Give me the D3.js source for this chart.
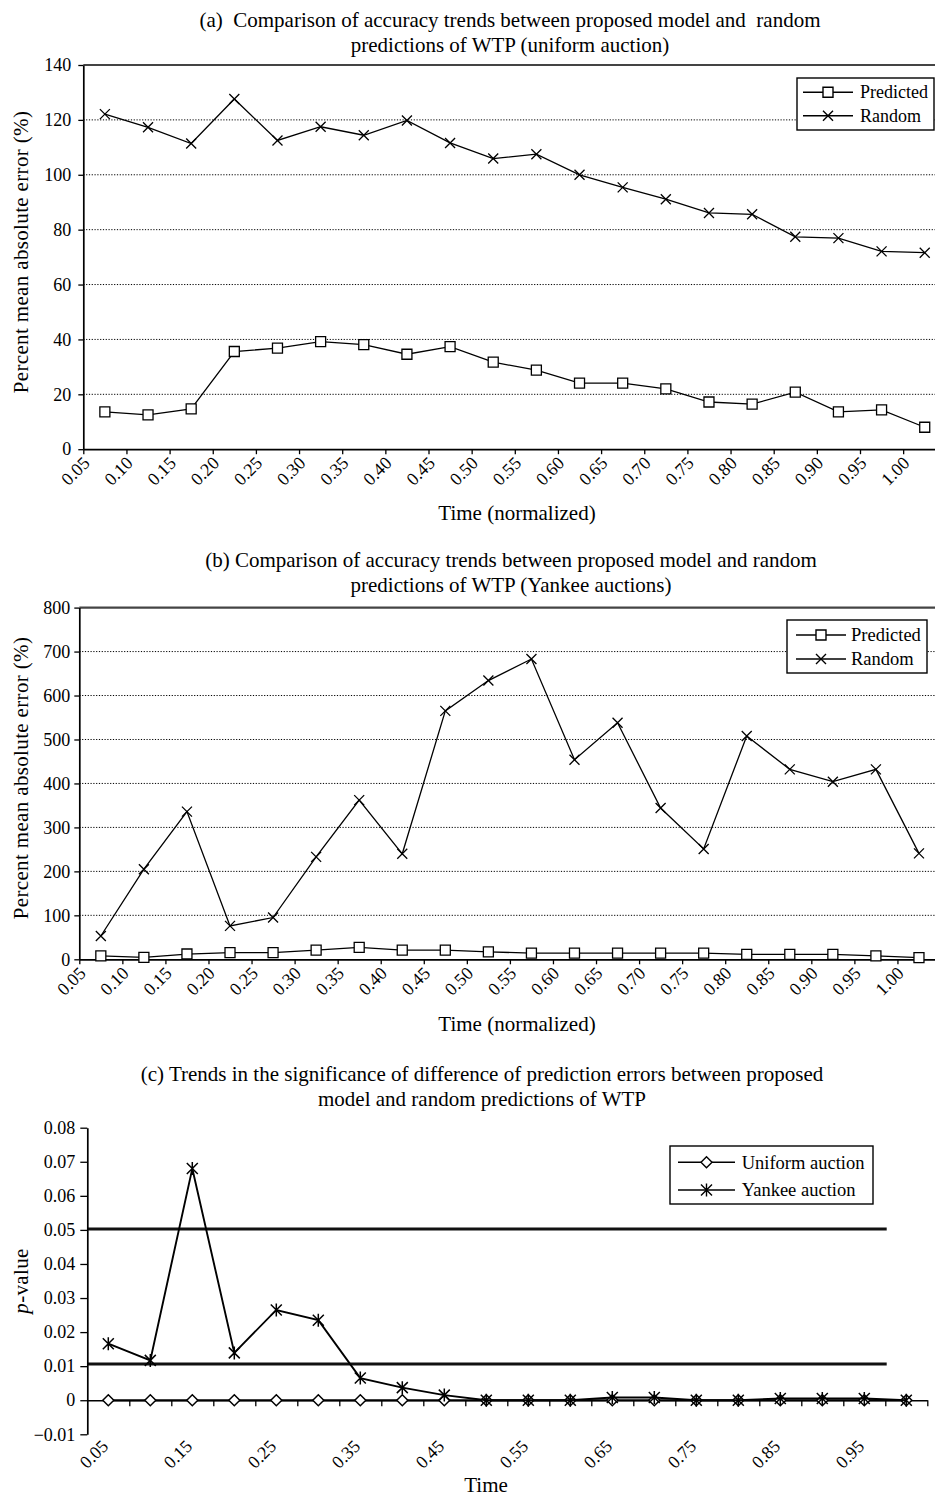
<!DOCTYPE html>
<html><head><meta charset="utf-8">
<script src="https://cdn.jsdelivr.net/npm/d3@7"></script>
<style>
body{margin:0;background:#fff;}
svg{display:block;}
</style></head><body>
<svg id="chart" width="935" height="1496"></svg>
<script>
// ---------- data ----------
const timeLabels = ["0.05","0.10","0.15","0.20","0.25","0.30","0.35","0.40","0.45","0.50",
                    "0.55","0.60","0.65","0.70","0.75","0.80","0.85","0.90","0.95","1.00"];
const predictedA = [13.6,12.5,14.7,35.6,36.8,39.2,38.1,34.6,37.4,31.7,28.8,24.1,24.1,22.0,17.2,16.4,20.8,13.6,14.3,8.0];
const randomA    = [122.1,117.3,111.4,127.6,112.5,117.5,114.4,119.8,111.6,105.9,107.5,100.0,95.4,91.1,86.1,85.6,77.4,76.9,72.1,71.6];
const yTicksA    = [0,20,40,60,80,100,120,140];

const predictedB = [8,4.5,12,15,15,21,27,21,21,17,14,14,14,14,14,11,11,11,8,4];
const randomB    = [53,205,336,76,95,233,362,240,565,634,683,454,538,344,251,508,432,404,432,241];
const yTicksB    = [0,100,200,300,400,500,600,700,800];

const timeC       = [0.05,0.10,0.15,0.20,0.25,0.30,0.35,0.40,0.45,0.50,0.55,0.60,0.65,0.70,0.75,0.80,0.85,0.90,0.95,1.00];
const timeLabelsC = ["0.05","0.15","0.25","0.35","0.45","0.55","0.65","0.75","0.85","0.95"];
const uniformC    = [0,0,0,0,0,0,0,0,0,0,0,0,0,0,0,0,0,0,0,0];
const yankeeC     = [0.0166,0.0117,0.068,0.0139,0.0265,0.0235,0.0065,0.0037,0.0015,0,0,0,0.0008,0.0008,0,0,0.0005,0.0005,0.0005,0];
const thresholdsC = [0.0503,0.0106];
const yTicksC     = [-0.01,0,0.01,0.02,0.03,0.04,0.05,0.06,0.07,0.08];

// ---------- helpers ----------
const SERIF = '"Liberation Serif","Times New Roman",Times,serif';
const svg = d3.select("#chart").style("font-family", SERIF);

const markerPaths = {
  square: "M-5,-5H5V5H-5Z",
  cross: "M-5,-5L5,5M-5,5L5,-5",
  diamond: "M0,-5.5L5.5,0L0,5.5L-5.5,0Z",
  star: "M-5.5,-5.5L5.5,5.5M-5.5,5.5L5.5,-5.5M0,-6.5V6.5"
};
function marker(g, type, x, y, sw) {
  g.append("path").attr("d", markerPaths[type])
   .attr("transform", `translate(${x},${y})`)
   .attr("fill", (type === "square" || type === "diamond") ? "#fff" : "none")
   .attr("stroke", "#000").attr("stroke-width", sw || 1.3);
}
function title(lines, cx, ys) {
  lines.forEach((t, i) => svg.append("text").attr("x", cx).attr("y", ys[i])
    .attr("text-anchor", "middle").attr("font-size", 21).style("white-space", "pre").text(t));
}
function styleAxis(g, fs) {
  g.attr("font-family", SERIF).attr("font-size", fs);
  g.selectAll("text").attr("fill", "#000");
  g.selectAll("line").attr("stroke", "#000").attr("stroke-width", 1.3);
  g.select(".domain").attr("stroke", "#000").attr("stroke-width", 1.7);
}
function legend(L, items) {
  const g = svg.append("g");
  g.append("rect").attr("x", L.x).attr("y", L.y).attr("width", L.w).attr("height", L.h)
   .attr("fill", "#fff").attr("stroke", "#000").attr("stroke-width", 1.4);
  items.forEach((it, i) => {
    const cy = L.rows[i];
    g.append("line").attr("x1", L.lx1).attr("x2", L.lx2).attr("y1", cy).attr("y2", cy)
     .attr("stroke", "#000").attr("stroke-width", 1.4);
    marker(g, it.m, (L.lx1 + L.lx2) / 2, cy, 1.4);
    g.append("text").attr("x", L.tx).attr("y", cy).attr("dy", "0.34em")
     .attr("font-size", L.fs).text(it.label);
  });
}

// ---------- panels (a) and (b) ----------
function linePanel(c) {
  const g = svg.append("g");
  const xb = d3.scaleLinear().domain([0, 20]).range([c.x0, c.x1]);
  const y = d3.scaleLinear().domain(c.dom).range([c.yB, c.yT]);

  // gridlines
  g.selectAll(".grid").data(c.ticks.filter(v => v > c.dom[0] && v < c.dom[1])).enter()
   .append("line").attr("x1", c.x0).attr("x2", c.x1).attr("y1", d => y(d)).attr("y2", d => y(d))
   .attr("stroke", "#000").attr("stroke-width", 1).attr("stroke-dasharray", "1.2,1.6");
  // top border
  g.append("line").attr("x1", c.x0).attr("x2", c.x1).attr("y1", y(c.dom[1])).attr("y2", y(c.dom[1]))
   .attr("stroke", "#444").attr("stroke-width", 2.2);

  // y axis
  const ya = g.append("g").attr("transform", `translate(${c.x0},0)`)
    .call(d3.axisLeft(y).tickValues(c.ticks).tickSize(5).tickPadding(c.tickPad).tickSizeOuter(0));
  styleAxis(ya, 18);

  // x axis
  const xa = g.append("g").attr("transform", `translate(0,${y(0)})`)
    .call(d3.axisBottom(xb).tickValues(d3.range(20)).tickFormat(i => timeLabels[i]).tickSize(5).tickSizeOuter(0));
  styleAxis(xa, 18);
  xa.selectAll("text").attr("x", 0).attr("y", 0).attr("dy", null)
    .attr("text-anchor", "end").attr("transform", "translate(7,15) rotate(-45)");

  const line = d3.line().x((d, i) => xb(i + 0.5)).y(d => y(d));
  [[c.pred, "square"], [c.rand, "cross"]].forEach(([data, m]) => {
    g.append("path").datum(data).attr("d", line).attr("fill", "none")
     .attr("stroke", "#000").attr("stroke-width", 1.3);
    data.forEach((d, i) => marker(g, m, xb(i + 0.5), y(d)));
  });

  title(c.title, c.titleX, c.titleY);
  svg.append("text").attr("x", c.xTitleX).attr("y", c.xTitleY).attr("text-anchor", "middle")
     .attr("font-size", 21).text("Time (normalized)");
  svg.append("text").attr("transform", `translate(28,${c.yTitleY}) rotate(-90)`)
     .attr("text-anchor", "middle").attr("font-size", 21).attr("letter-spacing", "0.35px")
     .text("Percent mean absolute error (%)");
  legend(c.legend, [{m: "square", label: "Predicted"}, {m: "cross", label: "Random"}]);
}

linePanel({
  x0: 83.3, x1: 83.3 + 20 * 43.15, yB: 449.2, yT: 65, dom: [0, 140], ticks: yTicksA, tickPad: 7,
  pred: predictedA, rand: randomA,
  title: ["(a)  Comparison of accuracy trends between proposed model and  random",
          "predictions of WTP (uniform auction)"],
  titleX: 510, titleY: [27, 52], xTitleX: 517, xTitleY: 520, yTitleY: 252,
  legend: {x: 797, y: 78, w: 137, h: 52, rows: [92.3, 115.7], lx1: 803, lx2: 853, tx: 860, fs: 18}
});

linePanel({
  x0: 79.3, x1: 79.3 + 20 * 43.06, yB: 959.3, yT: 607.6, dom: [0, 800], ticks: yTicksB, tickPad: 4,
  pred: predictedB, rand: randomB,
  title: ["(b) Comparison of accuracy trends between proposed model and random",
          "predictions of WTP (Yankee auctions)"],
  titleX: 511, titleY: [567, 592], xTitleX: 517, xTitleY: 1031, yTitleY: 778,
  legend: {x: 787, y: 620, w: 140, h: 53, rows: [635, 659], lx1: 796, lx2: 846, tx: 851, fs: 18.5}
});

// ---------- panel (c) ----------
(function () {
  const g = svg.append("g");
  const x0 = 87.3, x1 = 87.3 + 20 * 42;
  const xb = d3.scaleLinear().domain([0, 20]).range([x0, x1]);
  const xc = d3.scaleLinear().domain([timeC[0], timeC[19]]).range([xb(0.5), xb(19.5)]);
  const y = d3.scaleLinear().domain([-0.01, 0.08]).range([1434.3, 1127.7]);

  // threshold lines
  g.selectAll(".thr").data(thresholdsC).enter().append("line")
   .attr("x1", x0).attr("x2", 886.7).attr("y1", d => y(d)).attr("y2", d => y(d))
   .attr("stroke", "#111").attr("stroke-width", 3);

  // y axis
  const ya = g.append("g").attr("transform", `translate(${x0},0)`)
    .call(d3.axisLeft(y).tickValues(yTicksC).tickSize(7).tickPadding(5).tickSizeOuter(0)
      .tickFormat(d => d === 0 ? "0" : d3.format(".2f")(d)));
  styleAxis(ya, 18);

  // x axis along zero
  const xa = g.append("g").attr("transform", `translate(0,${y(0)})`)
    .call(d3.axisBottom(xb).tickValues(d3.range(1, 21)).tickFormat("").tickSize(6).tickSizeOuter(0));
  styleAxis(xa, 18);

  // x labels at bottom of plot
  g.selectAll(".xl").data(timeLabelsC).enter().append("text")
   .attr("transform", d => `translate(${xc(+d) + 1},${y(-0.01) + 13}) rotate(-45)`)
   .attr("text-anchor", "end").attr("font-size", 18).text(d => d);

  const line = d3.line().x((d, i) => xc(timeC[i])).y(d => y(d));
  [[uniformC, "diamond"], [yankeeC, "star"]].forEach(([data, m]) => {
    g.append("path").datum(data).attr("d", line).attr("fill", "none")
     .attr("stroke", "#000").attr("stroke-width", 1.9);
    data.forEach((d, i) => marker(g, m, xc(timeC[i]), y(d), 1.5));
  });

  title(["(c) Trends in the significance of difference of prediction errors between proposed",
         "model and random predictions of WTP"], 482, [1081, 1106]);
  svg.append("text").attr("x", 486).attr("y", 1492).attr("text-anchor", "middle")
     .attr("font-size", 21).text("Time");
  const yt = svg.append("text").attr("transform", `translate(28,1281) rotate(-90)`)
     .attr("text-anchor", "middle").attr("font-size", 21).attr("letter-spacing", "0.35px");
  yt.append("tspan").attr("font-style", "italic").text("p");
  yt.append("tspan").text("-value");
  legend({x: 670, y: 1146, w: 203, h: 58, rows: [1162.3, 1190], lx1: 678, lx2: 735, tx: 741.7, fs: 18.5},
         [{m: "diamond", label: "Uniform auction"}, {m: "star", label: "Yankee auction"}]);
})();
</script>
</body></html>
